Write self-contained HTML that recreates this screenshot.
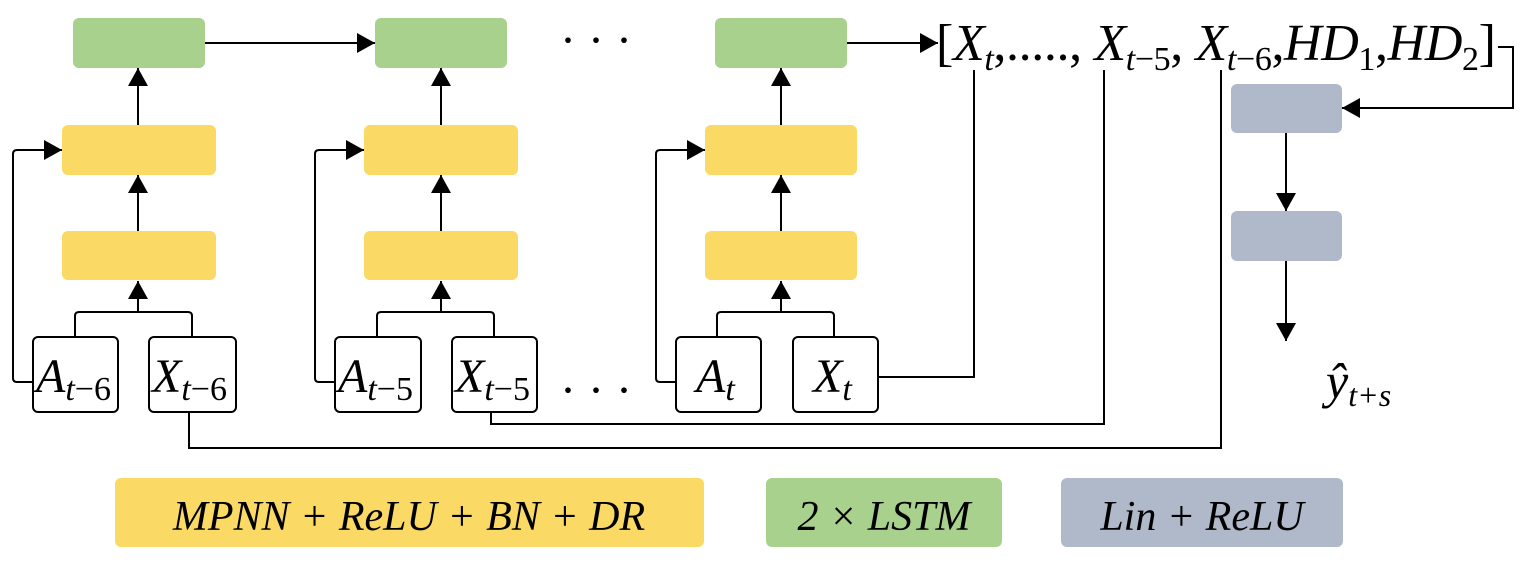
<!DOCTYPE html>
<html><head><meta charset="utf-8"><style>
html,body{margin:0;padding:0;background:#fff;}
svg{display:block;}
text{font-family:"Liberation Serif","DejaVu Serif",serif;font-style:italic;fill:#000;}
</style></head><body>
<svg width="1524" height="561" viewBox="0 0 1524 561" xmlns="http://www.w3.org/2000/svg" font-family="Liberation Serif, DejaVu Serif, serif">
<defs>
<marker id="ab" markerWidth="20" markerHeight="20" refX="18" refY="10" orient="auto" markerUnits="userSpaceOnUse">
<path d="M0,0 L18,10 L0,20 Z" fill="#000"/>
</marker>
</defs>
<g stroke="#000" stroke-width="2" fill="none">
<path d="M33,382 H17 Q13,382 13,378 V154 Q13,150 17,150 H62" marker-end="url(#ab)"/>
<path d="M75,337 V316 Q75,312 79,312 H188 Q192,312 192,316 V337"/>
<path d="M138,312 V281" marker-end="url(#ab)"/>
<path d="M138,231 V175" marker-end="url(#ab)"/>
<path d="M138,125 V68" marker-end="url(#ab)"/>
<path d="M205,43 H375" marker-end="url(#ab)"/>
<path d="M335,382 H319 Q315,382 315,378 V154 Q315,150 319,150 H364" marker-end="url(#ab)"/>
<path d="M377,337 V316 Q377,312 381,312 H490 Q494,312 494,316 V337"/>
<path d="M441,312 V281" marker-end="url(#ab)"/>
<path d="M441,231 V175" marker-end="url(#ab)"/>
<path d="M441,125 V68" marker-end="url(#ab)"/>
<path d="M676,382 H660 Q656,382 656,378 V154 Q656,150 660,150 H705" marker-end="url(#ab)"/>
<path d="M717,337 V316 Q717,312 721,312 H830 Q834,312 834,316 V337"/>
<path d="M781,312 V281" marker-end="url(#ab)"/>
<path d="M781,231 V175" marker-end="url(#ab)"/>
<path d="M781,125 V68" marker-end="url(#ab)"/>
<path d="M847,43 H938" marker-end="url(#ab)"/>
<path d="M189,408 V448 H1221 V70"/>
<path d="M491,412 V424 H1104 V70"/>
<path d="M878,377 H974 V70"/>
<path d="M1498,47 H1513 V108 H1342" marker-end="url(#ab)"/>
<path d="M1286,133 V211" marker-end="url(#ab)"/>
<path d="M1286,261 V341" marker-end="url(#ab)"/>
</g>
<g>
<rect x="73" y="18" width="132" height="50" rx="6" fill="#a9d18e"/>
<rect x="375" y="18" width="132" height="50" rx="6" fill="#a9d18e"/>
<rect x="715" y="18" width="132" height="50" rx="6" fill="#a9d18e"/>
<rect x="62" y="125" width="154" height="50" rx="6" fill="#fad964"/>
<rect x="62" y="231" width="154" height="49" rx="6" fill="#fad964"/>
<rect x="364" y="125" width="154" height="50" rx="6" fill="#fad964"/>
<rect x="364" y="231" width="154" height="49" rx="6" fill="#fad964"/>
<rect x="705" y="125" width="152" height="50" rx="6" fill="#fad964"/>
<rect x="705" y="231" width="152" height="49" rx="6" fill="#fad964"/>
<rect x="1231" y="84" width="111" height="49" rx="6" fill="#b0b9ca"/>
<rect x="1231" y="211" width="111" height="50" rx="6" fill="#b0b9ca"/>
<rect x="115" y="478" width="589" height="69" rx="6" fill="#fad964"/>
<rect x="766" y="478" width="236" height="69" rx="6" fill="#a9d18e"/>
<rect x="1061" y="478" width="282" height="69" rx="6" fill="#b0b9ca"/>
</g>
<g fill="#fff" stroke="#000" stroke-width="2">
<rect x="33" y="337" width="85" height="75" rx="5"/>
<rect x="149" y="337" width="87" height="75" rx="5"/>
<rect x="335" y="337" width="86" height="75" rx="5"/>
<rect x="452" y="337" width="85" height="75" rx="5"/>
<rect x="676" y="337" width="85" height="75" rx="5"/>
<rect x="793" y="337" width="85" height="75" rx="5"/>
</g>
<g font-size="48">
<text x="36" y="392">A<tspan font-size="34" dy="8">t</tspan><tspan font-size="34" font-style="normal">−6</tspan></text>
<text x="152" y="392">X<tspan font-size="34" dy="8">t</tspan><tspan font-size="34" font-style="normal">−6</tspan></text>
<text x="338" y="392">A<tspan font-size="34" dy="8">t</tspan><tspan font-size="34" font-style="normal">−5</tspan></text>
<text x="455" y="392">X<tspan font-size="34" dy="8">t</tspan><tspan font-size="34" font-style="normal">−5</tspan></text>
<text x="696" y="392">A<tspan font-size="34" dy="8">t</tspan></text>
<text x="813" y="392">X<tspan font-size="34" dy="8">t</tspan></text>
</g>
<g font-size="48" font-style="normal">
<text x="560" y="56" style="font-style:normal">·  ·  ·</text>
<text x="560" y="406" style="font-style:normal">·  ·  ·</text>
</g>
<text x="936" y="60" font-size="52" textLength="560" lengthAdjust="spacing"><tspan style="font-style:normal">[</tspan>X<tspan font-size="34" dy="10">t</tspan><tspan dy="-10" style="font-style:normal">,.....,</tspan> X<tspan font-size="34" dy="10">t</tspan><tspan font-size="34" style="font-style:normal">−5</tspan><tspan dy="-10" style="font-style:normal">,</tspan> X<tspan font-size="34" dy="10">t</tspan><tspan font-size="34" style="font-style:normal">−6</tspan><tspan dy="-10" style="font-style:normal">,</tspan>HD<tspan font-size="34" dy="10" style="font-style:normal">1</tspan><tspan dy="-10" style="font-style:normal">,</tspan>HD<tspan font-size="34" dy="10" style="font-style:normal">2</tspan><tspan dy="-10" style="font-style:normal">]</tspan></text>
<text x="1326" y="398" font-size="50">ŷ<tspan font-size="32" dy="8">t+s</tspan></text>
<g font-size="42">
<text x="409" y="530" text-anchor="middle">MPNN + ReLU + BN + DR</text>
<text x="884" y="530" text-anchor="middle">2 × LSTM</text>
<text x="1202" y="530" text-anchor="middle">Lin + ReLU</text>
</g>
</svg>
</body></html>
